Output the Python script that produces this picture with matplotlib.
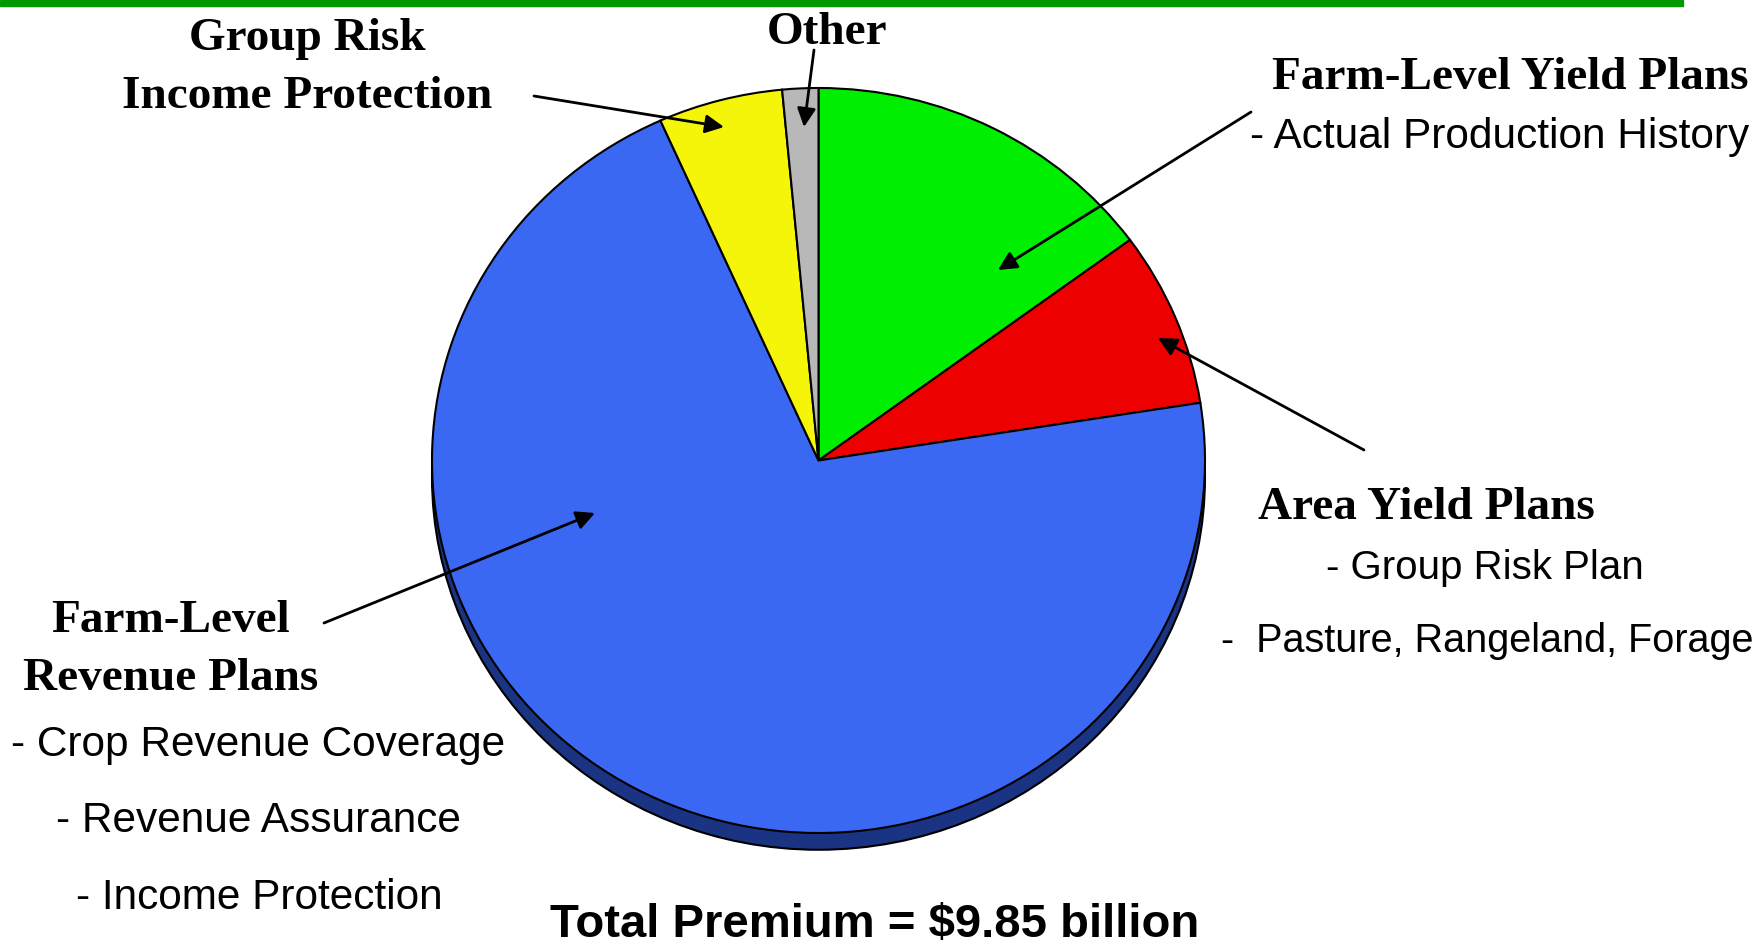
# Crop insurance premium by plan type - pie chart

import matplotlib.pyplot as plt
from matplotlib.patches import Ellipse, Rectangle

# Data (share of total premium, %), clockwise from 12 o'clock
plans = ["Farm-Level Yield Plans", "Area Yield Plans", "Farm-Level Revenue Plans",
         "Group Risk Income Protection", "Other"]
shares = [14.9, 7.6, 70.7, 5.2, 1.5]
colors = ["#00EE00", "#EE0000", "#3B68F2", "#F5F50A", "#B8B8B8"]
total_label = "Total Premium = $9.85 billion"

W, H = 1765, 944
fig = plt.figure(figsize=(W / 100, H / 100), dpi=100)

# pie sits in its own axes, stretched a bit to look tilted
pl, pr, pt, pb = 432, 1205, 88, 833
ax_pie = fig.add_axes([pl / W, 1 - pb / H, (pr - pl) / W, (pb - pt) / H])
rim = Ellipse((0, -0.045), 2, 2, facecolor="#1A3382", edgecolor="black",
              linewidth=1.5, zorder=0, clip_on=False)
ax_pie.add_patch(rim)
wedges, _ = ax_pie.pie(shares, colors=colors, startangle=90, counterclock=False,
                       wedgeprops=dict(edgecolor="black", linewidth=1.5))
for w in wedges:
    w.set_clip_on(False)
ax_pie.set_aspect("auto")
ax_pie.set_xlim(-1, 1)
ax_pie.set_ylim(-1, 1)
ax_pie.axis("off")

# overlay axes in pixel coords for text and arrows
ax = fig.add_axes([0, 0, 1, 1])
ax.set_xlim(0, W)
ax.set_ylim(H, 0)
ax.axis("off")

ax.add_patch(Rectangle((0, 0), 1683, 6, color="#009900"))

serif = dict(family="Liberation Serif", weight="bold", fontsize=34)

ax.text(307, 39, "Group Risk", ha="center", va="center", **serif)
ax.text(307, 97, "Income Protection", ha="center", va="center", **serif)
ax.text(827, 33, "Other", ha="center", va="center", **serif)

ax.text(1749, 78, "Farm-Level Yield Plans", ha="right", va="center", **serif)
ax.text(1749, 137, "- Actual Production History", ha="right", va="center",
        family="Liberation Sans", fontsize=30.5)

ax.text(1258, 508, "Area Yield Plans", ha="left", va="center", **serif)
ax.text(1326, 568, "- Group Risk Plan", ha="left", va="center",
        family="Liberation Sans", fontsize=29)
ax.text(1221, 641, "-  Pasture, Rangeland, Forage", ha="left", va="center",
        family="Liberation Sans", fontsize=28.5)

ax.text(171, 621, "Farm-Level", ha="center", va="center", **serif)
ax.text(171, 679, "Revenue Plans", ha="center", va="center", **serif)
left_sans = dict(family="Liberation Sans", fontsize=30.5)
ax.text(11, 745, "- Crop Revenue Coverage", ha="left", va="center", **left_sans)
ax.text(56, 821, "- Revenue Assurance", ha="left", va="center", **left_sans)
ax.text(76, 898, "- Income Protection", ha="left", va="center", **left_sans)

ax.text(875, 925, total_label, ha="center", va="center",
        family="Liberation Sans", weight="bold", fontsize=34)

# arrows from labels into slices
arrow = dict(arrowstyle="-|>", color="black", lw=2, mutation_scale=28,
             shrinkA=0, shrinkB=0)
ax.annotate("", xy=(724, 127), xytext=(534, 96), arrowprops=arrow)
ax.annotate("", xy=(804, 127), xytext=(814, 50), arrowprops=arrow)
ax.annotate("", xy=(998, 270), xytext=(1251, 112), arrowprops=arrow)
ax.annotate("", xy=(1158, 338), xytext=(1364, 450), arrowprops=arrow)
ax.annotate("", xy=(595, 513), xytext=(324, 623), arrowprops=arrow)

fig.savefig("out.png", dpi=100)
